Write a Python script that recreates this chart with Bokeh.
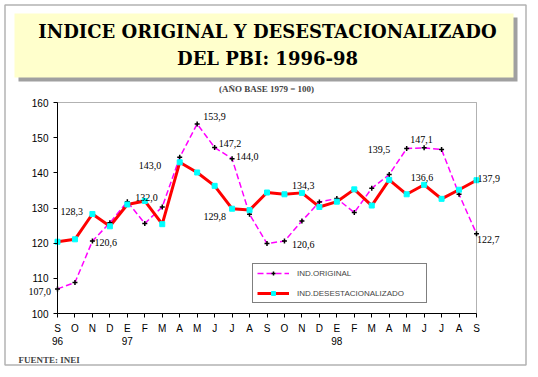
from bokeh.plotting import figure
from bokeh.models import (Range1d, FixedTicker, Legend, LegendItem, LabelSet, Label,
                          BoxAnnotation, ColumnDataSource)
from bokeh.embed import file_html
from bokeh.resources import INLINE

# ---------------- data ----------------
months = ["S", "O", "N", "D", "E", "F", "M", "A", "M", "J", "J", "A",
          "S", "O", "N", "D", "E", "F", "M", "A", "M", "J", "J", "A", "S"]
years = {0: "96", 4: "97", 16: "98"}
ind_original = [107.0, 108.8, 120.6, 125.8, 131.8, 125.6, 130.3, 144.4, 153.9, 147.2,
                144.0, 128.2, 119.9, 120.6, 126.3, 131.7, 132.7, 128.7, 135.6, 139.5,
                146.9, 147.1, 146.6, 133.9, 122.7]
ind_desest = [120.4, 121.1, 128.3, 124.8, 131.0, 132.0, 125.4, 143.0, 140.1, 136.3,
              129.8, 129.4, 134.4, 133.9, 134.3, 130.3, 131.8, 135.3, 130.7, 138.0,
              133.9, 136.6, 132.6, 135.2, 137.9]
y_ticks = [100, 110, 120, 130, 140, 150, 160]

# which points carry a value label: (series, index)
labelled = [("o", 0), ("d", 2), ("o", 2), ("d", 5), ("d", 7), ("o", 8), ("o", 9),
            ("o", 10), ("d", 10), ("o", 13), ("d", 14), ("o", 19), ("o", 21),
            ("d", 21), ("d", 24), ("o", 24)]
# label offsets in pixels (style)
label_dx = [-29, -32, 2, -9.5, -41, 6, 4, 4, -28.5, 7.5, -10, -21.5, -14, -13.3, 1, 0.5]
label_dy = [-2.3, 2, -1.5, 3.5, -3.3, 7, 3.7, 2, -8, -3, 7.7, 25.4, 8.7, 7, 1.7, -5.5]

# ---------------- layout (pixels) ----------------
W, H = 530, 369
PX0, PX1 = 57, 476      # pixel x of first / last month
PY_TOP, PY_BOT = 102, 313  # pixel y of top / bottom of value axis
n = len(months) - 1
y_lo, y_hi = y_ticks[0], y_ticks[-1]
kx = (PX1 - PX0) / n
ky = (PY_BOT - PY_TOP) / (y_hi - y_lo)


def dx(px):
    return (px - PX0) / kx


def dy(py):
    return y_hi - (py - PY_TOP) / ky


xs = list(range(len(months)))
src_o = ColumnDataSource(dict(x=xs, y=ind_original))
src_d = ColumnDataSource(dict(x=xs, y=ind_desest))

p = figure(width=W, height=H, output_backend="svg", toolbar_location=None, title=None,
           x_range=Range1d(dx(0), dx(W)), y_range=Range1d(dy(H), dy(0)),
           min_border_left=0, min_border_right=0, min_border_top=0, min_border_bottom=0)
p.xgrid.visible = False
p.ygrid.visible = False
p.outline_line_color = None
p.background_fill_color = "white"
p.border_fill_color = "white"

for ax in (p.xaxis[0], p.yaxis[0]):
    ax.axis_line_color = "black"
    ax.major_tick_line_color = "black"
    ax.minor_tick_line_color = None
    ax.major_tick_in = 0
    ax.major_tick_out = 4
    ax.major_label_text_font = "Liberation Sans"
    ax.major_label_text_font_size = "10px"
    ax.major_label_text_color = "black"
    ax.major_label_standoff = 5

p.yaxis.fixed_location = 0
p.yaxis.bounds = (y_lo, y_hi)
p.yaxis.ticker = FixedTicker(ticks=y_ticks)
p.xaxis.fixed_location = y_lo
p.xaxis.bounds = (0, n)
p.xaxis.ticker = FixedTicker(ticks=xs)
p.xaxis.major_label_overrides = {i: (m + ("\n" + years[i] if i in years else "")) for i, m in enumerate(months)}

# plot area box
p.add_layout(BoxAnnotation(left=0, right=n, bottom=y_lo, top=y_hi, fill_alpha=0,
                           line_color="black", line_width=1))

# ---------------- series ----------------
r_o_line = p.line("x", "y", source=src_o, line_color="#FF00FF", line_width=1.5, line_dash="6 3")
r_d_line = p.line("x", "y", source=src_d, line_color="#FF0000", line_width=3)
r_o_mark = p.scatter("x", "y", source=src_o, marker="cross", size=5, line_color="black", line_width=1.5)
r_d_mark = p.scatter("x", "y", source=src_d, marker="square", size=5, fill_color="#00FFFF",
                     line_color="#00FFFF")

# ---------------- value labels ----------------
lx, ly, lt = [], [], []
for s, i in labelled:
    v = ind_original[i] if s == "o" else ind_desest[i]
    lx.append(i)
    ly.append(v)
    lt.append(f"{v:.1f}".replace(".", ","))
lsrc = ColumnDataSource(dict(x=lx, y=ly, text=lt, dx=label_dx, dy=label_dy))
p.add_layout(LabelSet(x="x", y="y", text="text", source=lsrc, x_offset="dx", y_offset="dy",
                      text_font="Liberation Sans", text_font_size="10px", text_color="black",
                      text_align="left", text_baseline="middle"))

# ---------------- legend ----------------
legend = Legend(items=[LegendItem(label="IND.ORIGINAL", renderers=[r_o_line, r_o_mark]),
                       LegendItem(label="IND.DESESTACIONALIZADO", renderers=[r_d_line, r_d_mark])],
                location=(252, H - 303), border_line_color="black", border_line_width=1,
                background_fill_color="white", background_fill_alpha=1.0,
                padding=4, spacing=10, glyph_width=32, glyph_height=10, label_height=10,
                label_width=125, label_standoff=8, margin=0,
                label_text_font="Liberation Sans", label_text_font_size="8px")
p.add_layout(legend, "center")

# ---------------- title box, border ----------------
p.add_layout(BoxAnnotation(left=dx(18), right=dx(517), top=dy(17), bottom=dy(81),
                           fill_color="#A0A0A0", fill_alpha=1.0, line_color=None, level="underlay"))
p.add_layout(BoxAnnotation(left=dx(14), right=dx(513), top=dy(13), bottom=dy(77),
                           fill_color="#FFFFCC", fill_alpha=1.0, line_color=None, level="underlay"))
p.add_layout(BoxAnnotation(left=dx(4.5), right=dx(525.5), top=dy(4.5), bottom=dy(364.5),
                           fill_alpha=0, line_color="black", line_width=1.5))

title_lines = ["INDICE ORIGINAL Y DESESTACIONALIZADO", "DEL PBI: 1996-98"]
for t, yy in zip(title_lines, [31, 58]):
    p.add_layout(Label(x=dx(267), y=dy(yy), text=t,
                       text_font="DejaVu Serif", text_font_style="bold", text_font_size="18px",
                       text_align="center", text_baseline="middle", text_color="black"))
p.add_layout(Label(x=dx(266), y=dy(88), text="(AÑO BASE 1979 = 100)",
                   text_font="Liberation Serif", text_font_style="bold",
                   text_font_size="9px", text_align="center", text_baseline="middle"))
p.add_layout(Label(x=dx(18), y=dy(359), text="FUENTE: INEI",
                   text_font="Liberation Serif", text_font_style="bold",
                   text_font_size="9px", text_align="left", text_baseline="middle"))

open("out.html", "w").write(file_html(p, INLINE))
